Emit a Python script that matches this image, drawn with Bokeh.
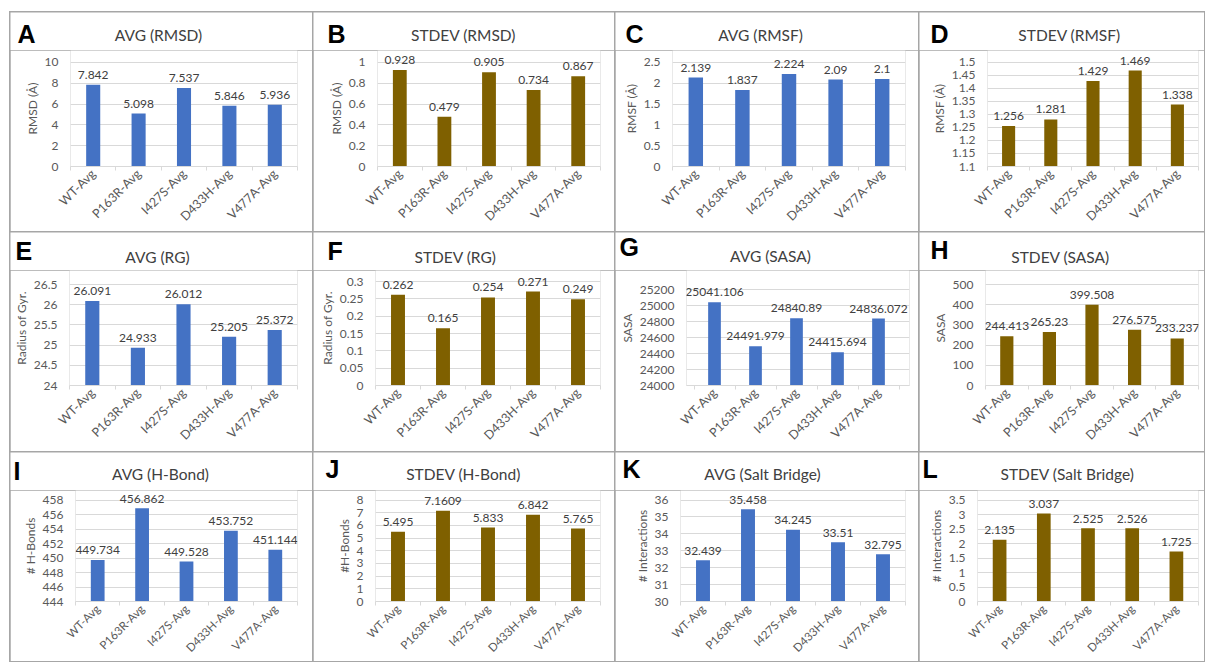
import math
from bokeh.plotting import figure
from bokeh.layouts import column
from bokeh.models import FixedTicker, Range1d, Label, GridBox, NumeralTickFormatter, ColumnDataSource
from bokeh.core.properties import value
from bokeh.embed import file_html
from bokeh.resources import INLINE

categories = ["WT-Avg", "P163R-Avg", "I427S-Avg", "D433H-Avg", "V477A-Avg"]

rmsd_avg = [7.842, 5.098, 7.537, 5.846, 5.936]
rmsd_std = [0.928, 0.479, 0.905, 0.734, 0.867]
rmsf_avg = [2.139, 1.837, 2.224, 2.09, 2.1]
rmsf_std = [1.256, 1.281, 1.429, 1.469, 1.338]
rg_avg = [26.091, 24.933, 26.012, 25.205, 25.372]
rg_std = [0.262, 0.165, 0.254, 0.271, 0.249]
sasa_avg = [25041.106, 24491.979, 24840.89, 24415.694, 24836.072]
sasa_std = [244.413, 265.23, 399.508, 276.575, 233.237]
hbond_avg = [449.734, 456.862, 449.528, 453.752, 451.144]
hbond_std = [5.495, 7.1609, 5.833, 6.842, 5.765]
salt_avg = [32.439, 35.458, 34.245, 33.51, 32.795]
salt_std = [2.135, 3.037, 2.525, 2.526, 1.725]

letters = ["A", "B", "C", "D", "E", "F", "G", "H", "I", "J", "K", "L"]
titles = ["AVG (RMSD)", "STDEV (RMSD)", "AVG (RMSF)", "STDEV (RMSF)",
          "AVG (RG)", "STDEV (RG)", "AVG (SASA)", "STDEV (SASA)",
          "AVG (H-Bond)", "STDEV (H-Bond)", "AVG (Salt Bridge)", "STDEV (Salt Bridge)"]
ylabels = ["RMSD (Å)", "RMSD (Å)", "RMSF (Å)", "RMSF (Å)",
           "Radius of Gyr.", "Radius of Gyr.", "SASA", "SASA",
           "# H-Bonds", "#H-Bonds", "# Interactions", "# Interactions"]
series = [rmsd_avg, rmsd_std, rmsf_avg, rmsf_std, rg_avg, rg_std,
          sasa_avg, sasa_std, hbond_avg, hbond_std, salt_avg, salt_std]
yticks = [
    [0, 2, 4, 6, 8, 10],
    [0, 0.2, 0.4, 0.6, 0.8, 1],
    [0, 0.5, 1, 1.5, 2, 2.5],
    [1.1, 1.15, 1.2, 1.25, 1.3, 1.35, 1.4, 1.45, 1.5],
    [24, 24.5, 25, 25.5, 26, 26.5],
    [0, 0.05, 0.1, 0.15, 0.2, 0.25, 0.3],
    [24000, 24200, 24400, 24600, 24800, 25000, 25200],
    [0, 100, 200, 300, 400, 500],
    [444, 446, 448, 450, 452, 454, 456, 458],
    [0, 1, 2, 3, 4, 5, 6, 7, 8],
    [30, 31, 32, 33, 34, 35, 36],
    [0, 0.5, 1, 1.5, 2, 2.5, 3, 3.5],
]

BLUE = "#4472C4"
BROWN = "#7F6000"
colors = [BLUE, BROWN] * 6

# layout (pixels, relative to each cell)
col_w = [302, 301, 303, 285]
row_h = [219, 219, 209]
frame_left = [60, 64, 57, 68, 58, 62, 71, 66, 65, 62, 65, 58]
frame_right = [15, 14, 13, 6, 15, 14, 9, 6, 15, 14, 13, 6]
frame_top = [50, 50, 50, 50, 52, 49, 57, 52, 48, 48, 48, 48]
frame_bot = [155, 153, 154]
xlab_px = [12.5, 12.5, 11.5]
x_pad_left = [0, 0, 0, 0, 0, 0, 0.183, 0, 0, 0, 0, 0]
x_pad_right = [0, 0, 0, 0, 0, 0, 0.256, 0, 0, 0, 0, 0]
title_x = [148, 150, 145, 150, 147, 142, 155, 141, 150, 150, 147, 148]
title_y = [29, 29, 29, 29, 31, 31, 30, 31, 28, 28, 28, 28]
letter_x = [7, 14, 10, 11, 5, 14, 4, 11, 3, 12, 7, 3]
letter_y = [31, 31, 31, 31, 28, 28, 24, 27, 28, 26, 26, 26]
HEAD = 38
LETTER_PX, TITLE_PX = 25, 15.5
BASE_FIX = 0.4  # empirical baseline correction (fraction of font size)

FONT = "Lato"
children = []
for i in range(12):
    r, c = divmod(i, 4)
    W, H = col_w[c], row_h[r]
    L, T = frame_left[i], frame_top[i]
    R = frame_right[i]
    B = H - frame_bot[r]
    fh = frame_bot[r] - T
    ticks = yticks[i]
    y0, y1 = ticks[0], ticks[-1]
    per_px = (y1 - y0) / fh
    y_top = y1 + (T - HEAD) * per_px

    hd = figure(width=W, height=HEAD, output_backend="svg", toolbar_location=None,
                x_range=Range1d(0, W), y_range=Range1d(HEAD, 0),
                min_border=0, outline_line_color=None, border_fill_color="white",
                background_fill_color="white", x_axis_location=None, y_axis_location=None)
    hd.frame_align = False
    hd.grid.visible = False
    hd.text(x=[letter_x[i]], y=[letter_y[i] - BASE_FIX * LETTER_PX], text=[letters[i]],
            text_align="left", text_baseline="alphabetic", text_font=value("Liberation Sans"),
            text_font_style="bold", text_font_size=f"{LETTER_PX}px", text_color="black")
    hd.text(x=[title_x[i]], y=[title_y[i] - BASE_FIX * TITLE_PX], text=[titles[i]],
            text_align="center", text_baseline="alphabetic", text_font=value(FONT),
            text_font_size=f"{TITLE_PX}px", text_color="#404040")

    n = len(categories)
    p = figure(width=W, height=H - HEAD, output_backend="svg", toolbar_location=None,
               x_range=Range1d(-x_pad_left[i], n + x_pad_right[i]), y_range=Range1d(y0, y_top),
               min_border_left=L, min_border_right=R, min_border_top=0, min_border_bottom=B,
               outline_line_color=None, border_fill_color="white", background_fill_color="white")
    p.frame_align = False
    xs = [k + 0.5 for k in range(n)]
    src = ColumnDataSource(dict(x=xs, top=series[i]))
    p.vbar(x="x", top="top", bottom=y0, width=0.31, source=src,
           fill_color=colors[i], line_color=None)

    xa = p.xaxis[0]
    xa.ticker = FixedTicker(ticks=xs, minor_ticks=list(range(n + 1)))
    xa.major_label_overrides = {xv: cat for xv, cat in zip(xs, categories)}
    xa.major_label_orientation = math.pi / 4
    xa.major_tick_line_color = None
    xa.major_tick_out = 0
    xa.major_tick_in = 0
    xa.minor_tick_out = 4
    xa.minor_tick_in = 0
    xa.minor_tick_line_color = "#d9d9d9"
    xa.axis_line_color = "#d9d9d9"
    xa.major_label_standoff = 1
    xa.major_label_text_font = FONT
    xa.major_label_text_font_size = f"{xlab_px[r]}px"
    xa.major_label_text_color = "#595959"

    ya = p.yaxis[0]
    ya.ticker = FixedTicker(ticks=ticks)
    ya.formatter = NumeralTickFormatter(format="0.[00]")
    ya.axis_line_color = None
    ya.major_tick_line_color = None
    ya.minor_tick_line_color = None
    ya.major_label_standoff = 6
    ya.major_label_text_font = FONT
    ya.major_label_text_font_size = "12px"
    ya.major_label_text_color = "#595959"
    ya.axis_label = ylabels[i]
    ya.axis_label_text_font = FONT
    ya.axis_label_text_font_style = "normal"
    ya.axis_label_text_font_size = "12px"
    ya.axis_label_text_color = "#595959"
    ya.axis_label_standoff = 2

    p.xgrid.grid_line_color = None
    p.ygrid.grid_line_color = "#d9d9d9"
    p.ygrid.ticker = FixedTicker(ticks=ticks)

    for xv, v in zip(xs, series[i]):
        p.add_layout(Label(x=xv, y=v + 10 * per_px, text=str(v),
                           text_align="center", text_baseline="alphabetic",
                           text_font=FONT, text_font_size="12px", text_color="#404040"))

    children.append((column(hd, p, spacing=0), r, c))

grid = GridBox(children=children, spacing=1, margin=(11, 0, 0, 9),
               styles={"background-color": "#a6a6a6", "border": "1px solid #a6a6a6"})

open("out.html", "w").write(file_html(grid, INLINE))
